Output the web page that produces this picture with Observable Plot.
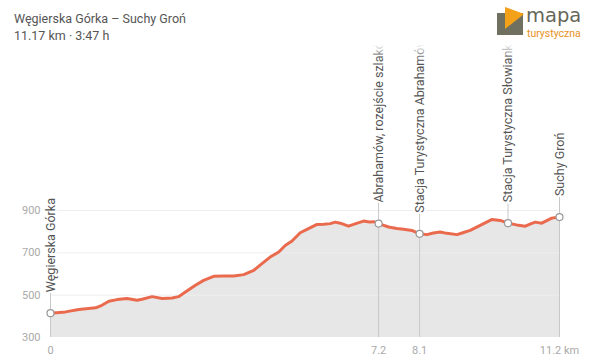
<!DOCTYPE html>
<html><head><meta charset="utf-8">
<script src="https://cdn.jsdelivr.net/npm/d3@7"></script>
<script src="https://cdn.jsdelivr.net/npm/@observablehq/plot@0.6"></script>
<style>
body{margin:0;background:#fff;}
#wrap{position:relative;width:600px;height:362px;overflow:hidden;font-family:Roboto,sans-serif;background:#fff;}
#t1{position:absolute;left:14px;top:11px;font-size:12.5px;color:#555;line-height:15px;white-space:nowrap;}
#t2{position:absolute;left:14px;top:28px;font-size:12.5px;color:#555;line-height:15px;white-space:nowrap;}
#chart{position:absolute;left:0;top:45px;width:600px;height:317px;}
#chart svg{overflow:hidden;}
#fade{position:absolute;left:0;top:44px;width:600px;height:16px;background:linear-gradient(#fff,rgba(255,255,255,0));pointer-events:none;}
#logo{position:absolute;left:496px;top:5px;width:104px;height:36px;}
#mapa{position:absolute;left:30px;top:-2px;font-family:"DejaVu Sans",sans-serif;font-size:19.5px;color:#66665a;line-height:26px;}
#tur{position:absolute;left:31px;top:23px;font-family:Roboto,sans-serif;font-size:10.5px;color:#e8911c;line-height:12px;}
</style></head><body>
<div id="wrap">
  <div id="t1">Węgierska Górka – Suchy Groń</div>
  <div id="t2">11.17 km · 3:47 h</div>
  <div id="logo">
    <svg width="30" height="32" style="position:absolute;left:0;top:0">
      <polygon points="1,8 27,8 27,30 1,30" fill="#6f705f"/>
      <polygon points="9,2 28,9 9,24" fill="#f4a11a"/>
    </svg>
    <div id="mapa">mapa</div>
    <div id="tur">turystyczna</div>
  </div>
  <div id="chart"></div>
  <div id="fade"></div>
</div>
<script>
// profile: distance (km) and elevation (m)
const dist = [0,0.33,0.62,0.99,1.10,1.28,1.46,1.68,1.90,2.01,2.23,2.45,2.67,2.81,2.96,3.18,3.36,3.58,3.80,4.02,4.24,4.46,4.64,4.82,5.01,5.15,5.30,5.48,5.66,5.85,6.00,6.14,6.25,6.36,6.54,6.70,6.87,7.00,7.09,7.20,7.42,7.60,7.75,7.93,8.10,8.26,8.40,8.55,8.70,8.92,9.05,9.21,9.43,9.69,9.87,10.04,10.23,10.42,10.55,10.64,10.78,11.00,11.17];
const elev = [415,421,432,440,449,471,479,484,476,481,493,484,487,493,515,547,570,589,590,591,597,617,649,680,704,735,756,795,814,834,835,838,845,840,826,838,850,846,847,838,822,815,811,806,790,786,794,798,792,786,795,806,830,858,853,840,832,826,838,845,840,864,869];

// waypoints
const wpName = ["Węgierska Górka","Abrahamów, rozejście szlaków","Stacja Turystyczna Abrahamów","Stacja Turystyczna Słowianka","Suchy Groń"];
const wpDist = [0,7.2,8.1,10.04,11.17];
const wpElev = [415,838,790,840,869];

// axes
const xTicks = [0,7.2,8.1,11.17];
const xTickLabels = ["0","7.2","8.1","11.2 km"];
const yTicks = [300,500,700,900];
const yGrid = [500,700,900];
const yDomain = [300,900];

const profile = dist.map((d,i)=>({d, e: elev[i]}));
const wp = wpName.map((n,i)=>({name:n, d: wpDist[i], e: wpElev[i]}));

const H = 317, mT = 165, mB = 25;
const mPerPx = (yDomain[1]-yDomain[0])/(H-mT-mB);

const chart = Plot.plot({
  width: 600, height: H,
  marginTop: mT, marginBottom: mB, marginLeft: 50, marginRight: 41,
  style: {fontFamily: "Roboto, sans-serif", fontSize: "11px", color: "#aaa", background: "transparent", overflow: "hidden"},
  x: {domain: [0, 11.17], ticks: xTicks, tickFormat: d => xTickLabels[xTicks.indexOf(d)], tickSize: 0, tickPadding: 9, label: null},
  y: {domain: yDomain, ticks: yTicks, tickSize: 0, tickPadding: 10, label: null},
  marks: [
    Plot.areaY(profile, {x: "d", y1: yDomain[0], y2: "e", fill: "#e7e7e7"}),
    Plot.ruleY(yGrid, {stroke: "#eeeeee", strokeWidth: 1}),
    Plot.ruleX(wp.filter(w => xTicks.includes(w.d)), {x: "d", y1: yDomain[0], y2: "e", stroke: "#c8c8c8", strokeWidth: 1}),
    Plot.line(profile, {x: "d", y: "e", stroke: "#ea6a4e", strokeWidth: 3, strokeLinejoin: "round"}),
    Plot.ruleX(wp, {x: "d", y1: "e", y2: w => w.e + 26*mPerPx, stroke: "#c8c8c8", strokeWidth: 1}),
    Plot.text(wp, {x: "d", y: "e", text: "name", rotate: -90, textAnchor: "start", dy: -21, fill: "#555", stroke: "white", strokeWidth: 4, paintOrder: "stroke", fontSize: 12.5}),
    Plot.dot(wp, {x: "d", y: "e", r: 3.5, fill: "white", stroke: "#999", strokeWidth: 1.2})
  ]
});
document.getElementById("chart").appendChild(chart);
</script>
</body></html>
